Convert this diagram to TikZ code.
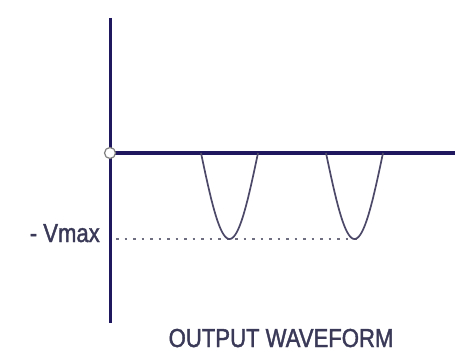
\documentclass[tikz,border=0pt]{standalone}
\usepackage{fontspec}
\newfontfamily\narrowfont[FakeStretch=0.85,FakeBold=1.5]{Liberation Sans}
\definecolor{axiscol}{HTML}{20185E}
\definecolor{wavecol}{HTML}{4C4868}
\definecolor{dotcol}{HTML}{6E6E80}
\definecolor{textcol}{HTML}{3A3A58}
\begin{document}
\begin{tikzpicture}[x=1pt,y=-1pt,
  axisline/.style={draw=axiscol},
  wave/.style={draw=wavecol,line width=1.7pt},
  lvl/.style={draw=dotcol,line width=2.4pt,dash pattern=on 2.6pt off 5.9pt},
  lbl/.style={font=\narrowfont\fontsize{26}{28}\selectfont,text=textcol,inner sep=0pt}]
\useasboundingbox[fill=white] (0,0) rectangle (458,353);
\coordinate (O) at (110,153);
\coordinate (ytop) at (110,18);
\coordinate (ybot) at (110,323);
\coordinate (xend) at (455,153);
\coordinate (d0) at (116,239);
\coordinate (d1) at (362,239);
% axes
\draw[axisline,line width=3pt] (ytop) -- (ybot);
\draw[axisline,line width=4pt] (O) -- (xend);
% dotted level
\draw[lvl] (d0) -- (d1);
% lobes
\draw[wave,domain=0:57,samples=60,smooth] plot ({201+\x},{153+86*sin(180*\x/57)});
\draw[wave,domain=0:57,samples=60,smooth] plot ({326+\x},{153+86*sin(180*\x/57)});
% origin circle
\node[circle,draw=gray,fill=white,line width=1.2pt,minimum size=11pt,inner sep=0pt] (orig) at (O) {};
% labels
\node[lbl,anchor=base east] (vmax) at (100,242) {- Vmax};
\node[lbl,anchor=base] (title) at (281,347) {OUTPUT WAVEFORM};
\end{tikzpicture}
\end{document}
